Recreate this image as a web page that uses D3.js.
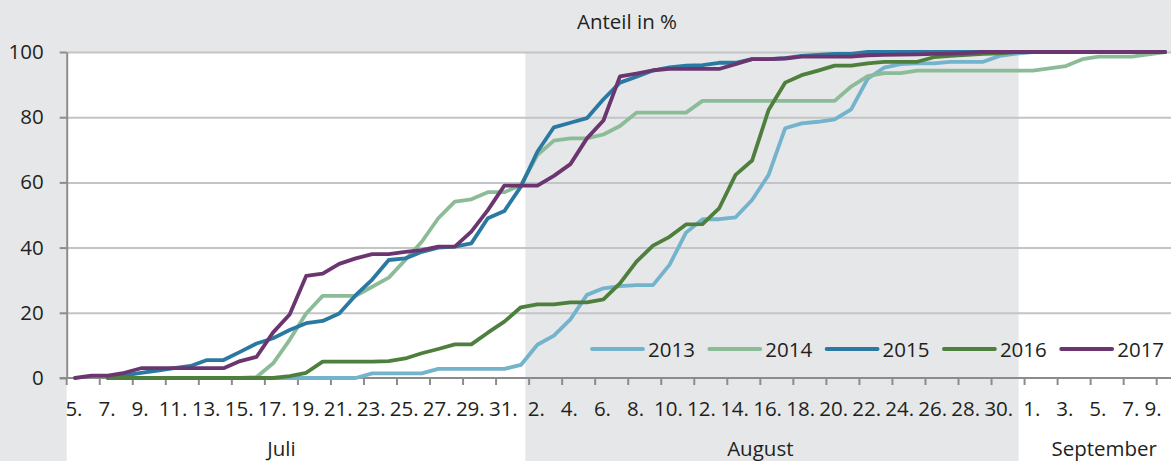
<!DOCTYPE html>
<html>
<head>
<meta charset="utf-8">
<script src="https://cdn.jsdelivr.net/npm/d3@7"></script>
<style>
  body { margin: 0; background: #e6e7e9; }
  svg { display: block; font-family: "Open Sans", sans-serif; }
</style>
</head>
<body>
<div id="chart"></div>
<script>
// categories: days from 5. Juli to 9. September
var juliDays = [5, 6, 7, 8, 9, 10, 11, 12, 13, 14, 15, 16, 17, 18, 19, 20, 21, 22, 23, 24, 25, 26, 27, 28, 29, 30, 31];
var augustDays = [1, 2, 3, 4, 5, 6, 7, 8, 9, 10, 11, 12, 13, 14, 15, 16, 17, 18, 19, 20, 21, 22, 23, 24, 25, 26, 27, 28, 29, 30, 31];
var septemberDays = [1, 2, 3, 4, 5, 6, 7, 8, 9];
var monthNames = ["Juli", "August", "September"];

var yTicks = [0, 20, 40, 60, 80, 100];
var years = ["2013", "2014", "2015", "2016", "2017"];
var colors = ["#74b3cc", "#8cbc97", "#2b79a2", "#4e7f3d", "#6b3670"];

// Anteil in %, one value per day (null = no value)
var s2013 = [null, null, 0, 0, 0, 0, 0, 0, 0, 0, 0, 0, 0, 0, 0, 0, 0, 0,
  1.4, 1.4, 1.4, 1.4, 2.8, 2.8, 2.8, 2.8, 2.8, 4,
  10.2, 13, 18, 25.5, 27.5, 28.2, 28.5, 28.5, 34.7, 44.6,
  48.7, 48.7, 49.3, 54.6, 62.3, 76.6, 78.1, 78.6, 79.3, 82.4,
  91.8, 95.2, 96.3, 96.5, 96.5, 97, 97, 97, 98.8, 99.5,
  100, 100, 100, 100, 100, 100, 100, 100, 100];
var s2014 = [null, null, 0, 0, 0, 0, 0, 0, 0, 0, 0,
  0.3, 4.5, 11.7, 19.8, 25.2, 25.2, 25.2, 28, 30.8, 36.2, 41.8, 49, 54.1, 54.8, 57, 57, 59.2,
  68.4, 72.8, 73.5, 73.5, 74.7, 77.3, 81.4, 81.4, 81.4, 81.4, 85,
  85, 85, 85, 85, 85, 85, 85, 85,
  89.4, 92.6, 93.5, 93.5,
  94.3, 94.3, 94.3, 94.3, 94.3, 94.3, 94.3, 94.3,
  95, 95.7, 97.8, 98.6, 98.6, 98.6, 99.3, 100];
var s2015 = [null, null, 0, 0.8, 1.6, 2.3, 3, 3.7, 5.5, 5.5,
  8, 10.6, 12.2, 14.7, 16.8, 17.5, 19.8, 25.4, 30.2, 36.2,
  36.7, 38.7, 40, 40.3, 41.3, 49, 51.2, 58.7, 69.4, 76.9,
  78.3, 79.7, 85.5, 90.6, 92.4, 94.3, 95.3, 95.8, 96, 96.7,
  96.7, 97.8, 97.8, 98.1, 98.8, 99.1, 99.4, 99.4,
  100, 100, 100, 100, 100, 100, 100, 100, 100, 100, 100, 100, 100, 100, 100, 100, 100, 100, 100];
var s2016 = [null, null, 0, 0, 0, 0, 0, 0, 0, 0, 0, 0, 0,
  0.6, 1.6, 5, 5, 5, 5, 5.2, 6, 7.6, 8.9, 10.3, 10.3, 13.9, 17.3, 21.7,
  22.6, 22.6, 23.2, 23.2, 24.1, 29, 35.7, 40.6, 43.3, 47.1, 47.2,
  52, 62.3, 66.7, 82.2, 90.6, 92.9, 94.3, 95.8, 95.8,
  96.5, 97, 97, 97, 98.4, 98.8, 99.1, 99.4, 99.6,
  100, 100, 100, 100, 100, 100, 100, 100, 100, 100];
var s2017 = [0, 0.7, 0.7, 1.6, 3, 3, 3, 3, 3, 3,
  5.2, 6.5, 14, 19.5, 31.3, 32, 35, 36.7, 38, 38,
  38.7, 39.2, 40.3, 40.3, 44.9, 51.5, 59, 59, 59, 62,
  65.6, 73.5, 79, 92.5, 93.4, 94.4, 94.8, 94.8, 94.8, 94.8,
  96.3, 97.8, 97.8, 98, 98.6, 98.6, 98.6, 98.6, 99, 99.1,
  99.2, 99.3, 99.4, 99.5, 99.7, 100,
  100, 100, 100, 100, 100, 100, 100, 100, 100, 100, 100];
var seriesValues = [s2013, s2014, s2015, s2016, s2017];

var width = 1171, height = 461;
var plotLeft = 66.7, plotTop = 52, plotBottom = 378;
var fontSize = 20.5;

// build the category list
var monthLists = [juliDays, augustDays, septemberDays];
var days = [];
monthLists.forEach(function (list, m) {
  list.forEach(function (d) {
    days.push({ key: m + "-" + d, day: d, month: m });
  });
});
var keys = days.map(function (d) { return d.key; });

var x = d3.scaleBand()
  .domain(keys)
  .range([plotLeft, plotLeft + keys.length * 16.515])
  .padding(0);
var bw = x.bandwidth();

var y = d3.scaleLinear()
  .domain([0, 100])
  .range([plotBottom, plotTop]);

var svg = d3.select("#chart").append("svg")
  .attr("width", width)
  .attr("height", height);

svg.append("rect")
  .attr("width", width).attr("height", height)
  .attr("fill", "#e6e7e9");

// white plot area for Juli and September, August stays grey
var augStart = x("1-1") + bw * 0.77;
var augEnd = x("2-1") - bw * 0.36;
svg.append("rect")
  .attr("x", plotLeft).attr("y", plotTop)
  .attr("width", augStart - plotLeft).attr("height", height - plotTop)
  .attr("fill", "#ffffff");
svg.append("rect")
  .attr("x", augEnd).attr("y", plotTop)
  .attr("width", width - augEnd).attr("height", height - plotTop)
  .attr("fill", "#ffffff");

// gridlines
svg.append("g")
  .attr("class", "grid")
  .attr("transform", "translate(" + plotLeft + ",0)")
  .call(d3.axisLeft(y).tickValues(yTicks.slice(1)).tickSize(-(width - plotLeft)).tickFormat(""))
  .call(function (g) { g.select(".domain").remove(); })
  .selectAll("line")
  .attr("stroke", "#c3c4c6")
  .attr("stroke-width", 2);

// y axis
var yAxis = svg.append("g")
  .attr("transform", "translate(" + plotLeft + ",0)")
  .call(d3.axisLeft(y).tickValues(yTicks).tickSize(7).tickPadding(16).tickSizeOuter(0));
yAxis.select(".domain").attr("stroke", "#8c8c8c").attr("stroke-width", 2);
yAxis.selectAll(".tick line").attr("stroke", "#8c8c8c").attr("stroke-width", 2);
yAxis.selectAll("text")
  .attr("font-size", fontSize)
  .attr("fill", "#231f20")
  .style("font-family", "'Open Sans', sans-serif");

// x axis with ticks between every second day
var evenKeys = keys.filter(function (k, i) { return i % 2 === 0; });
var xAxis = svg.append("g")
  .attr("transform", "translate(0," + plotBottom + ")")
  .call(d3.axisBottom(x).tickValues(evenKeys).tickSize(7).tickSizeOuter(0).tickFormat(""));
xAxis.select(".domain").attr("stroke", "#8c8c8c").attr("stroke-width", 2)
  .attr("d", "M" + (plotLeft - 7) + ",0H" + width);
xAxis.selectAll(".tick line")
  .attr("stroke", "#8c8c8c").attr("stroke-width", 2)
  .attr("transform", "translate(" + (-bw / 2) + ",0)");

// day labels
svg.append("g").selectAll("text")
  .data(days.filter(function (d, i) { return i % 2 === 0; }))
  .enter().append("text")
  .attr("x", function (d) { return Math.min(x(d.key) + bw / 2 - 1, width - 18); })
  .attr("y", 416)
  .attr("text-anchor", "middle")
  .attr("font-size", fontSize)
  .attr("fill", "#231f20")
  .text(function (d) { return d.day + "."; });

// month labels, centred between the first and last tick of the month,
// the last one kept inside the picture
svg.append("g").selectAll("text")
  .data(monthNames)
  .enter().append("text")
  .attr("x", function (d, m) {
    if (m === monthNames.length - 1) return width - 14;
    var list = monthLists[m].filter(function (day) {
      return keys.indexOf(m + "-" + day) % 2 === 0;
    });
    return (x(m + "-" + list[0]) + x(m + "-" + list[list.length - 1])) / 2;
  })
  .attr("y", 456)
  .attr("text-anchor", function (d, m) { return m === monthNames.length - 1 ? "end" : "middle"; })
  .attr("font-size", fontSize)
  .attr("fill", "#231f20")
  .text(function (d) { return d; });

// title
svg.append("text")
  .attr("x", 627)
  .attr("y", 29)
  .attr("text-anchor", "middle")
  .attr("font-size", fontSize)
  .attr("fill", "#231f20")
  .text("Anteil in %");

// lines
var line = d3.line()
  .defined(function (d) { return d.v !== null; })
  .x(function (d) { return x(d.key) + bw / 2; })
  .y(function (d) { return y(d.v); });

seriesValues.forEach(function (vals, s) {
  var pts = vals.map(function (v, i) { return { key: keys[i], v: v }; });
  svg.append("path")
    .datum(pts)
    .attr("fill", "none")
    .attr("stroke", colors[s])
    .attr("stroke-width", 3.8)
    .attr("stroke-linejoin", "round")
    .attr("stroke-linecap", "round")
    .attr("d", line);
});

// legend
var legend = svg.append("g").attr("transform", "translate(592,349)");
var item = legend.selectAll("g")
  .data(years)
  .enter().append("g")
  .attr("transform", function (d, i) { return "translate(" + (i * 117.3) + ",0)"; });
item.append("line")
  .attr("x1", 0).attr("x2", 51)
  .attr("stroke", function (d, i) { return colors[i]; })
  .attr("stroke-width", 3.8)
  .attr("stroke-linecap", "round");
item.append("text")
  .attr("x", 56)
  .attr("y", 7.5)
  .attr("font-size", fontSize)
  .attr("fill", "#231f20")
  .text(function (d) { return d; });
</script>
</body>
</html>
